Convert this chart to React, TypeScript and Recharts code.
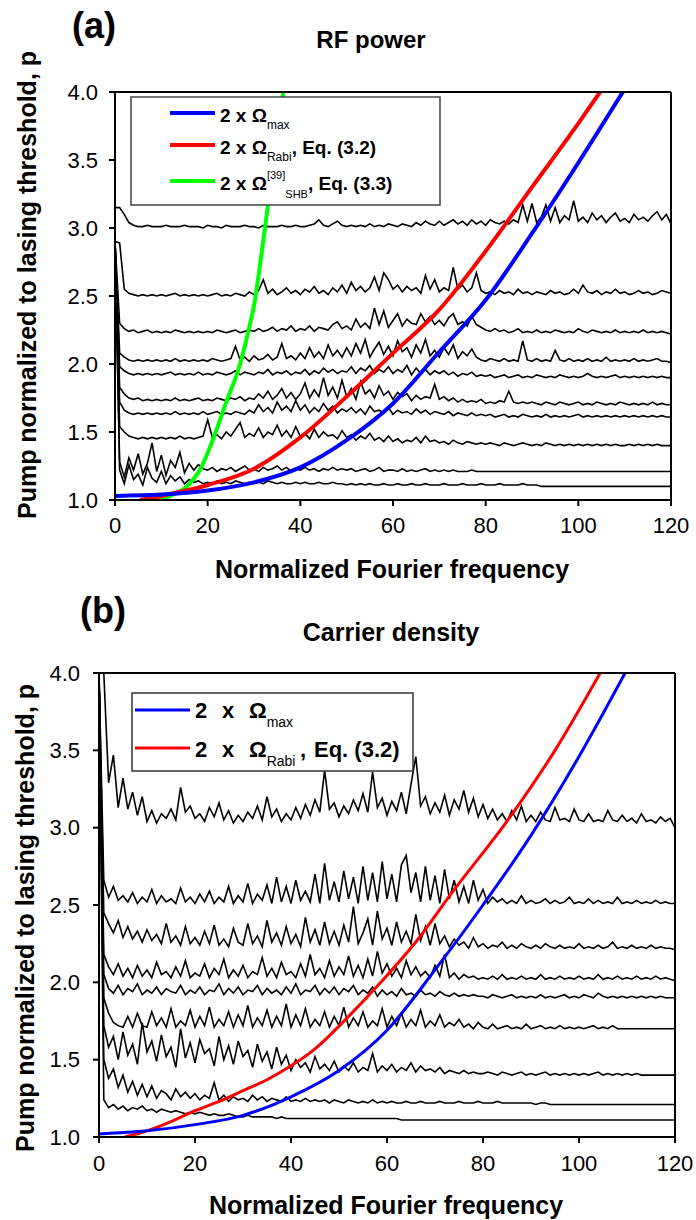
import { LineChart, Line, XAxis, YAxis } from 'recharts'

const FONT = "'Liberation Sans', Arial, Helvetica, sans-serif"

// axis ticks
const freqTicks = [0, 20, 40, 60, 80, 100, 120]
const freqMinorTicks = [10, 30, 50, 70, 90, 110]
const freqTopTicks = [10, 20, 30, 40, 50, 60, 70, 80, 90, 100, 110]
const pumpTicks = [1.0, 1.5, 2.0, 2.5, 3.0, 3.5, 4.0]
const pumpMinorTicks = [1.25, 1.75, 2.25, 2.75, 3.25, 3.75]
const pumpRightTicks = [1.25, 1.5, 1.75, 2.0, 2.25, 2.5, 2.75, 3.0, 3.25, 3.5, 3.75]

// spectra: one value per unit of normalized frequency (0..120), in hundredths of p
// (a) RF power
const rfP300 = [
  315, 315, 310, 304, 302, 301, 301, 302, 301, 301,
  301, 302, 301, 301, 301, 302, 301, 301, 301, 300,
  302, 301, 301, 300, 302, 301, 301, 301, 302, 301,
  301, 300, 302, 301, 301, 301, 302, 301, 301, 302,
  301, 301, 302, 303, 306, 302, 301, 303, 305, 302,
  301, 302, 301, 302, 301, 303, 301, 302, 301, 303,
  302, 301, 303, 302, 301, 304, 302, 305, 303, 302,
  305, 302, 304, 306, 303, 305, 302, 306, 303, 305,
  302, 306, 304, 303, 305, 303, 306, 304, 317, 305,
  318, 304, 308, 317, 305, 315, 304, 309, 306, 320,
  305, 308, 304, 311, 306, 309, 304, 308, 311, 305,
  307, 304, 310, 306, 308, 305, 309, 312, 306, 310,
  303,
]
const rfP250 = [
  290, 289, 255, 252, 251, 250, 251, 250, 251, 250,
  251, 250, 251, 252, 250, 251, 250, 251, 250, 251,
  250, 251, 252, 250, 251, 250, 252, 251, 250, 253,
  251, 254, 262, 252, 255, 251, 253, 256, 252, 254,
  251, 255, 253, 257, 252, 254, 251, 256, 253, 258,
  252, 260, 254, 257, 253, 256, 264, 254, 267, 262,
  255, 258, 253, 257, 254, 256, 252, 265, 255, 262,
  253, 256, 254, 271, 255, 258, 253, 256, 267, 254,
  252, 253, 251, 254, 252, 253, 251, 255, 252, 253,
  251, 253, 252, 251, 254, 252, 253, 251, 252, 255,
  252, 258, 253, 252, 254, 251, 253, 252, 255, 252,
  253, 251, 252, 254, 252, 253, 251, 252, 254, 253,
  252,
]
const rfP220 = [
  290, 230, 226, 224, 225, 223, 224, 225, 223, 224,
  223, 224, 223, 225, 224, 223, 224, 223, 224, 223,
  224, 223, 225, 224, 223, 224, 225, 223, 224, 225,
  224, 226, 224, 225, 227, 224, 226, 225, 228, 224,
  226, 225, 228, 224, 227, 226, 225, 229, 231, 226,
  228, 225, 233, 227, 230, 226, 241, 229, 239, 227,
  232, 237, 228, 233, 230, 229, 237, 231, 235, 229,
  232, 228, 234, 237, 229, 231, 228, 235, 229, 227,
  225, 224, 226, 224, 225, 223, 224, 226, 223, 224,
  223, 225, 223, 224, 223, 225, 224, 223, 224, 223,
  226, 224, 223, 225, 224, 223, 224, 223, 225, 223,
  224, 223, 224, 223, 225, 223, 224, 223, 224, 223,
  222,
]
const rfP200 = [
  290, 208, 205, 203, 202, 203, 202, 203, 202, 203,
  202, 203, 202, 204, 202, 203, 202, 203, 202, 203,
  202, 204, 203, 202, 203, 204, 213, 203, 205, 202,
  206, 203, 204, 207, 203, 205, 215, 204, 206, 203,
  208, 204, 212, 205, 209, 204, 214, 206, 210, 205,
  212, 206, 215, 208, 218, 205, 211, 216, 207, 213,
  206, 217, 209, 212, 205, 214, 208, 218, 206, 210,
  205, 212, 207, 214, 204, 209, 206, 211, 205, 203,
  202, 204, 203, 202, 204, 202, 203, 202, 217, 203,
  202, 204, 202, 203, 202, 210, 203, 202, 204, 202,
  203, 202, 204, 202, 203, 202, 205, 202, 203, 202,
  203, 202, 204, 202, 203, 202, 203, 204, 202, 202,
  201,
]
const rfP190 = [
  290, 198, 195, 193, 192, 193, 192, 193, 192, 193,
  192, 193, 194, 192, 193, 192, 193, 192, 194, 192,
  193, 192, 194, 193, 192, 193, 195, 192, 194, 193,
  192, 194, 193, 196, 192, 194, 193, 195, 192, 194,
  193, 196, 192, 195, 193, 197, 194, 196, 193, 195,
  194, 198, 193, 197, 195, 199, 193, 196, 194, 198,
  193, 196, 194, 199, 192, 197, 193, 196, 192, 195,
  193, 195, 192, 194, 191, 193, 192, 194, 191, 192,
  191, 192, 190, 191, 192, 190, 191, 192, 190, 191,
  190, 192, 191, 190, 191, 190, 192, 191, 190, 191,
  190, 191, 193, 191, 190, 191, 190, 191, 192, 190,
  191, 190, 191, 190, 191, 190, 191, 190, 191, 190,
  190,
]
const rfP170 = [
  290, 183, 178, 175, 174, 175, 173, 174, 173, 174,
  173, 174, 173, 175, 173, 174, 173, 174, 175, 173,
  174, 173, 175, 174, 173, 175, 174, 176, 173, 175,
  174, 178, 175, 180, 174, 177, 182, 175, 179, 174,
  178, 186, 175, 181, 176, 190, 177, 183, 175, 188,
  176, 182, 174, 187, 178, 181, 175, 184, 177, 180,
  174, 179, 176, 178, 173, 177, 174, 176, 175, 185,
  174, 176, 173, 175, 172, 174, 172, 173, 172, 174,
  171, 172, 171, 173, 172, 180, 172, 171, 172, 171,
  172, 171, 170, 172, 171, 170, 172, 171, 170, 171,
  172, 170, 171, 170, 172, 171, 170, 171, 170, 172,
  171, 170, 171, 170, 171, 170, 172, 170, 171, 170,
  170,
]
const rfP160 = [
  290, 172, 166, 164, 163, 164, 163, 164, 163, 164,
  163, 164, 163, 165, 163, 164, 163, 164, 163, 165,
  163, 164, 165, 163, 164, 163, 165, 164, 163, 166,
  164, 170, 165, 168, 164, 172, 166, 169, 165, 173,
  166, 170, 164, 168, 165, 171, 166, 169, 164, 167,
  165, 168, 164, 167, 163, 169, 165, 166, 164, 168,
  163, 166, 164, 165, 163, 167, 164, 166, 163, 165,
  164, 163, 165, 162, 164, 163, 162, 164, 162, 163,
  162, 163, 161, 162, 163, 161, 162, 161, 163, 162,
  161, 162, 161, 163, 161, 162, 161, 162, 161, 162,
  163, 161, 162, 161, 162, 161, 162, 161, 162, 161,
  162, 161, 162, 161, 162, 161, 162, 161, 162, 161,
  161,
]
const rfP140 = [
  290, 154, 150, 147, 146, 145, 146, 145, 146, 145,
  146, 145, 146, 145, 147, 145, 146, 145, 146, 147,
  159, 146, 148, 145, 150, 147, 152, 157, 146, 149,
  147, 153, 146, 150, 148, 155, 147, 151, 146, 154,
  147, 149, 145, 152, 146, 150, 147, 148, 145, 151,
  146, 148, 144, 147, 145, 149, 144, 146, 143, 147,
  143, 145, 142, 144, 143, 146, 142, 147, 143, 144,
  142, 143, 141, 144, 142, 141, 143, 142, 141, 142,
  141, 142, 141, 140, 142, 141, 140, 141, 142, 141,
  140, 141, 140, 142, 141, 140, 141, 140, 141, 140,
  141, 140, 141, 140, 141, 140, 141, 140, 141, 140,
  140, 141, 140, 141, 140, 141, 140, 141, 140, 140,
  140,
]
const rfP120 = [
  290, 128, 117, 131, 122, 134, 119, 127, 142, 121,
  133, 118, 129, 124, 135, 120, 127, 122, 126, 123,
  122, 124, 121, 123, 122, 124, 121, 123, 125, 122,
  123, 121, 124, 122, 123, 125, 122, 124, 121, 123,
  122, 124, 122, 123, 121, 123, 122, 124, 122, 123,
  122, 123, 121, 122, 123, 121, 122, 124, 121, 122,
  122, 121, 123, 121, 122, 121, 122, 123, 121, 122,
  121, 122, 121, 122, 121, 121, 121, 122, 121, 121,
  121, 121, 121, 121, 121, 121, 121, 121, 121, 121,
  121, 121, 121, 121, 121, 121, 121, 121, 121, 121,
  121, 121, 121, 121, 121, 121, 121, 121, 121, 121,
  121, 121, 121, 121, 121, 121, 121, 121, 121, 121,
  121,
]
const rfP110 = [
  290, 122, 112, 126, 115, 119, 111, 124, 116, 113,
  121, 112, 118, 114, 117, 112, 115, 113, 114, 112,
  113, 112, 114, 112, 113, 112, 114, 113, 112, 113,
  112, 113, 112, 114, 113, 112, 113, 112, 112, 113,
  112, 113, 112, 112, 113, 112, 112, 113, 112, 112,
  111, 112, 111, 112, 111, 112, 111, 111, 112, 111,
  111, 112, 111, 111, 112, 111, 111, 112, 111, 111,
  111, 112, 111, 111, 111, 112, 111, 111, 111, 112,
  111, 111, 111, 112, 111, 111, 111, 111, 112, 111,
  111, 111, 110, 110, 110, 110, 110, 110, 110, 110,
  110, 110, 110, 110, 110, 110, 110, 110, 110, 110,
  110, 110, 110, 110, 110, 110, 110, 110, 110, 110,
  110,
]

// (b) Carrier density
const cdP305 = [
  400, 400, 329, 347, 313, 332, 312, 323, 308, 320,
  304, 311, 303, 309, 306, 312, 305, 326, 310, 314,
  306, 309, 304, 313, 307, 316, 305, 311, 303, 308,
  304, 310, 306, 314, 305, 320, 307, 312, 304, 309,
  305, 313, 306, 315, 308, 318, 310, 337, 312, 316,
  307, 314, 309, 318, 311, 322, 310, 336, 313, 319,
  308, 317, 311, 323, 309, 328, 346, 314, 320, 309,
  316, 310, 321, 308, 318, 312, 324, 310, 319, 307,
  315, 306, 312, 305, 309, 304, 311, 305, 314, 304,
  308, 304, 310, 305, 304, 313, 305, 306, 304, 312,
  305, 304, 309, 304, 305, 304, 311, 305, 304, 308,
  304, 306, 303, 309, 304, 305, 303, 307, 304, 306,
  300,
]
const cdP250 = [
  400, 266, 255, 262, 253, 256, 252, 258, 251, 255,
  252, 260, 251, 256, 252, 254, 251, 261, 252, 255,
  251, 257, 252, 259, 251, 255, 252, 262, 251, 256,
  252, 264, 251, 257, 253, 263, 251, 268, 252, 262,
  251, 266, 253, 259, 252, 270, 251, 277, 253, 265,
  252, 272, 254, 268, 251, 275, 253, 271, 252, 278,
  254, 270, 252, 276, 282, 258, 271, 252, 275, 253,
  269, 251, 273, 254, 266, 252, 262, 251, 266, 253,
  260, 251, 255, 252, 254, 251, 253, 251, 256, 251,
  253, 251, 252, 254, 251, 253, 251, 252, 255, 251,
  252, 251, 254, 251, 253, 251, 252, 251, 255, 251,
  252, 251, 253, 251, 252, 251, 253, 251, 252, 251,
  251,
]
const cdP220 = [
  400, 245, 238, 232, 240, 229, 236, 228, 233, 226,
  234, 227, 231, 225, 238, 226, 230, 224, 236, 225,
  229, 224, 233, 225, 237, 224, 228, 223, 235, 226,
  224, 238, 225, 230, 223, 240, 226, 232, 224, 236,
  225, 231, 223, 242, 226, 234, 224, 239, 225, 233,
  224, 237, 226, 249, 225, 232, 241, 224, 246, 228,
  235, 224, 239, 226, 233, 225, 244, 227, 236, 224,
  238, 225, 230, 223, 228, 224, 226, 222, 229, 223,
  225, 222, 224, 223, 226, 222, 224, 222, 225, 223,
  222, 224, 222, 225, 223, 222, 224, 222, 223, 222,
  225, 222, 223, 222, 224, 222, 223, 226, 222, 223,
  222, 224, 222, 223, 222, 224, 222, 223, 222, 222,
  221,
]
const cdP200 = [
  400, 218, 210, 205, 212, 204, 209, 203, 211, 204,
  208, 203, 213, 205, 207, 203, 210, 204, 214, 203,
  206, 204, 212, 203, 209, 205, 215, 203, 208, 204,
  211, 203, 207, 205, 216, 204, 209, 203, 213, 205,
  207, 203, 212, 204, 218, 205, 209, 203, 214, 204,
  210, 205, 217, 204, 211, 203, 215, 204, 220, 206,
  212, 204, 209, 203, 214, 205, 210, 204, 207, 203,
  211, 204, 218, 203, 206, 202, 205, 203, 204, 202,
  203, 202, 204, 202, 205, 202, 203, 202, 204, 202,
  203, 202, 205, 202, 203, 202, 204, 202, 203, 202,
  204, 202, 203, 202, 205, 202, 203, 202, 204, 202,
  203, 202, 204, 202, 203, 202, 204, 202, 203, 202,
  201,
]
const cdP190 = [
  400, 205, 196, 193, 198, 192, 196, 194, 199, 192,
  195, 193, 197, 192, 196, 194, 193, 198, 192, 195,
  193, 197, 192, 195, 194, 199, 192, 196, 193, 197,
  192, 195, 194, 198, 192, 196, 193, 195, 192, 197,
  193, 199, 192, 195, 194, 198, 192, 196, 193, 197,
  192, 196, 194, 198, 192, 195, 193, 197, 191, 195,
  192, 194, 191, 196, 192, 193, 191, 195, 192, 193,
  191, 194, 192, 191, 193, 191, 192, 191, 192, 191,
  191, 190, 192, 191, 190, 191, 192, 190, 191, 190,
  191, 190, 192, 190, 191, 190, 191, 192, 190, 191,
  190, 192, 191, 190, 193, 191, 190, 191, 190, 191,
  190, 191, 190, 191, 190, 191, 190, 191, 190, 190,
  190,
]
const cdP170 = [
  400, 190, 180, 174, 172, 171, 178, 171, 180, 172,
  171, 181, 172, 177, 171, 183, 171, 175, 172, 182,
  171, 178, 172, 184, 171, 176, 172, 181, 171, 179,
  172, 185, 171, 177, 172, 182, 171, 178, 172, 186,
  171, 179, 172, 183, 171, 176, 172, 181, 171, 178,
  172, 184, 171, 177, 172, 181, 171, 175, 172, 183,
  171, 178, 172, 180, 171, 176, 172, 182, 171, 175,
  172, 179, 171, 174, 172, 176, 171, 173, 170, 174,
  171, 170, 173, 170, 171, 172, 170, 171, 170, 173,
  170, 171, 172, 170, 171, 170, 172, 170, 171, 170,
  171, 170, 171, 172, 170, 171, 170, 172, 170, 170,
  170, 170, 170, 170, 170, 170, 170, 170, 170, 170,
  170,
]
const cdP140 = [
  400, 172, 158, 165, 150, 168, 153, 160, 147, 174,
  155, 162, 149, 166, 152, 158, 145, 170, 151, 161,
  148, 163, 154, 157, 146, 165, 150, 159, 147, 162,
  152, 156, 145, 160, 149, 155, 144, 158, 147, 153,
  143, 150, 145, 148, 142, 152, 144, 147, 143, 149,
  142, 146, 143, 148, 142, 145, 143, 154, 142, 146,
  143, 147, 142, 145, 143, 148, 142, 146, 143, 144,
  142, 145, 141, 143, 142, 141, 143, 141, 142, 141,
  141, 142, 141, 140, 142, 141, 140, 141, 142, 140,
  141, 140, 141, 142, 140, 141, 140, 141, 140, 141,
  140, 141, 140, 141, 142, 140, 141, 140, 141, 140,
  141, 140, 141, 140, 140, 140, 140, 140, 140, 140,
  140,
]
const cdP120 = [
  400, 150, 138, 144, 132, 140, 129, 136, 127, 134,
  126, 133, 125, 130, 128, 124, 131, 126, 129, 125,
  128, 124, 127, 125, 135, 124, 127, 123, 126, 124,
  125, 123, 127, 124, 126, 123, 125, 124, 123, 126,
  123, 124, 123, 125, 123, 124, 123, 124, 122, 124,
  123, 122, 124, 123, 122, 123, 122, 124, 122, 123,
  122, 123, 122, 122, 123, 122, 122, 123, 122, 122,
  122, 123, 122, 122, 122, 123, 122, 122, 122, 123,
  122, 122, 122, 123, 122, 122, 122, 122, 122, 122,
  122, 121, 122, 122, 121, 121, 121, 121, 121, 121,
  121, 121, 121, 121, 121, 121, 121, 121, 121, 121,
  121, 121, 121, 121, 121, 121, 121, 121, 121, 121,
  121,
]
const cdP110 = [
  400, 124, 119, 121, 118, 120, 117, 119, 118, 120,
  117, 118, 116, 118, 117, 116, 117, 116, 115, 116,
  115, 116, 115, 114, 115, 114, 114, 115, 114, 113,
  113, 114, 113, 113, 113, 113, 113, 112, 113, 112,
  112, 112, 112, 112, 112, 112, 112, 112, 112, 112,
  112, 112, 112, 112, 112, 112, 112, 112, 112, 112,
  112, 112, 112, 111, 111, 111, 111, 111, 111, 111,
  111, 111, 111, 111, 111, 111, 111, 111, 111, 111,
  111, 111, 111, 111, 111, 111, 111, 111, 111, 111,
  111, 111, 111, 111, 111, 111, 111, 111, 111, 111,
  111, 111, 111, 111, 111, 111, 111, 111, 111, 111,
  111, 111, 111, 111, 111, 111, 111, 111, 111, 111,
  111,
]

// theory curves [frequency, p]
const rfOmegaMax = [[0, 1.03], [10, 1.04], [20, 1.07], [30, 1.13], [40, 1.24], [50, 1.44], [60, 1.71], [70, 2.09], [80, 2.47], [90, 2.96], [100, 3.48], [109.6, 4.0]]
const rfOmegaRabi = [[5.4, 1.0], [10, 1.03], [20, 1.11], [30, 1.23], [40, 1.46], [50, 1.76], [60, 2.08], [70, 2.4], [80, 2.83], [90, 3.3], [100, 3.77], [104.7, 4.0]]
const rfOmegaShb = [[8, 1.0], [10, 1.01], [12.5, 1.04], [15.5, 1.1], [18.3, 1.22], [21.2, 1.45], [24, 1.72], [27, 2.0], [28.5, 2.2], [30.2, 2.47], [31.5, 2.78], [32.8, 3.11], [34.5, 3.55], [36.3, 4.0]]
const cdOmegaMax = [[0, 1.02], [10, 1.04], [20, 1.08], [30, 1.14], [40, 1.26], [50, 1.43], [60, 1.69], [70, 2.08], [80, 2.5], [90, 2.95], [100, 3.46], [109.6, 4.0]]
const cdOmegaRabi = [[5.4, 1.0], [10, 1.04], [15, 1.1], [20, 1.17], [25, 1.23], [30, 1.3], [35, 1.37], [40, 1.46], [45, 1.57], [52, 1.78], [58.7, 2.0], [66.5, 2.28], [73.3, 2.57], [85.2, 3.05], [95, 3.5], [104.4, 4.0]]

const rfTraces = [rfP300, rfP250, rfP220, rfP200, rfP190, rfP170, rfP160, rfP140, rfP120, rfP110]
const cdTraces = [cdP305, cdP250, cdP220, cdP200, cdP190, cdP170, cdP140, cdP120, cdP110]

const toPoints = (vals: number[]) => vals.map((v, i) => ({ x: i, y: v / 100 }))
const pairsToPoints = (pairs: number[][]) => pairs.map(([x, y]) => ({ x, y }))

type Geom = {
  top: number
  height: number
  left: number
  right: number
  plotTop: number
  plotBottom: number
  yTickMargin: number
  xTickMargin: number
}

type Curve = { pairs: number[][]; color: string }

function Panel({ traces, curves, g, traceWidth, curveWidth }: { traces: number[][]; curves: Curve[]; g: Geom; traceWidth: number; curveWidth: number }) {
  // two stacked 1px axes on the left and at the bottom
  const margin = { top: g.plotTop, left: g.left - 2, right: 696 - g.right, bottom: g.height - g.plotBottom - 2 }
  const ax = { stroke: '#000', strokeWidth: 2 }
  const tickText = { fill: '#000', fontSize: 22, fontFamily: FONT }
  return (
    <div style={{ position: 'absolute', left: 0, top: g.top }}>
      <LineChart width={696} height={g.height} margin={margin}>
        <XAxis xAxisId="x" type="number" dataKey="x" domain={[0, 120]} ticks={freqTicks} interval={0} allowDataOverflow
          height={1} tickSize={6} tickMargin={g.xTickMargin} axisLine={ax} tickLine={ax} tick={tickText} />
        <XAxis xAxisId="xMinor" type="number" dataKey="x" domain={[0, 120]} ticks={freqMinorTicks} interval={0} allowDataOverflow
          height={1} tickSize={4} axisLine={false} tickLine={ax} tick={false} />
        <XAxis xAxisId="xTop" orientation="top" mirror type="number" dataKey="x" domain={[0, 120]} ticks={freqTopTicks} interval={0} allowDataOverflow
          height={1} tickSize={5} axisLine={ax} tickLine={ax} tick={false} />
        <YAxis yAxisId="y" type="number" domain={[1, 4]} ticks={pumpTicks} interval={0} allowDataOverflow
          width={1} tickSize={6} tickMargin={g.yTickMargin} axisLine={ax} tickLine={ax} tick={tickText}
          tickFormatter={(v: number) => v.toFixed(1)} />
        <YAxis yAxisId="yMinor" type="number" domain={[1, 4]} ticks={pumpMinorTicks} interval={0} allowDataOverflow
          width={1} tickSize={4} axisLine={false} tickLine={ax} tick={false} />
        <YAxis yAxisId="yRight" orientation="right" mirror type="number" domain={[1, 4]} ticks={pumpRightTicks} interval={0} allowDataOverflow
          width={1} tickSize={5} axisLine={ax} tickLine={ax} tick={false} />
        {traces.map((t, i) => (
          <Line key={'t' + i} xAxisId="x" yAxisId="y" data={toPoints(t)} dataKey="y" type="linear"
            stroke="#000" strokeWidth={traceWidth} dot={false} isAnimationActive={false} />
        ))}
        {curves.map((c, i) => (
          <Line key={'c' + i} xAxisId="x" yAxisId="y" data={pairsToPoints(c.pairs)} dataKey="y" type="monotone"
            stroke={c.color} strokeWidth={curveWidth} dot={false} isAnimationActive={false} />
        ))}
      </LineChart>
    </div>
  )
}

const geomA: Geom = { top: 0, height: 600, left: 115, right: 671, plotTop: 92, plotBottom: 500, yTickMargin: 11, xTickMargin: 11 }
const geomB: Geom = { top: 600, height: 620, left: 99, right: 675, plotTop: 73, plotBottom: 537, yTickMargin: 13, xTickMargin: 12 }

export default function App() {
  return (
    <div style={{ position: 'absolute', left: 0, top: 0, width: 696, height: 1220, background: '#fff', overflow: 'hidden' }}>
      <Panel traces={rfTraces} g={geomA} traceWidth={1.6} curveWidth={4}
        curves={[{ pairs: rfOmegaShb, color: '#00ff00' }, { pairs: rfOmegaRabi, color: '#ff0000' }, { pairs: rfOmegaMax, color: '#0000ff' }]} />
      <Panel traces={cdTraces} g={geomB} traceWidth={1.6} curveWidth={3}
        curves={[{ pairs: cdOmegaRabi, color: '#ff0000' }, { pairs: cdOmegaMax, color: '#0000ff' }]} />
      <svg width={696} height={1220} style={{ position: 'absolute', left: 0, top: 0 }} fontFamily={FONT}>
        {/* panel (a) */}
        <text x={72} y={38} fontSize={36} fontWeight="bold">(a)</text>
        <text x={371} y={48} fontSize={24} fontWeight="bold" textAnchor="middle">RF power</text>
        <text transform="translate(27,285) rotate(-90)" fontSize={25} fontWeight="bold" textAnchor="middle" dy="0.35em">
          Pump normalized to lasing threshold, p
        </text>
        <text x={392} y={578} fontSize={25} fontWeight="bold" textAnchor="middle">Normalized Fourier frequency</text>
        <rect x={131} y={97} width={309} height={108} fill="#fff" stroke="#444" strokeWidth={1.5} />
        <line x1={170} x2={215} y1={113} y2={113} stroke="#0000ff" strokeWidth={4} />
        <line x1={170} x2={215} y1={145} y2={145} stroke="#ff0000" strokeWidth={4} />
        <line x1={170} x2={215} y1={181} y2={181} stroke="#00ff00" strokeWidth={4} />
        <text x={220} y={122} fontSize={19} fontWeight="bold">
          2 x Ω<tspan fontSize={12} fontWeight="normal" dy={7}>max</tspan>
        </text>
        <text x={220} y={154} fontSize={19} fontWeight="bold">
          2 x Ω<tspan fontSize={12} fontWeight="normal" dy={7}>Rabi</tspan><tspan dy={-7}>, Eq. (3.2)</tspan>
        </text>
        <text x={220} y={190} fontSize={19} fontWeight="bold">
          2 x Ω<tspan fontSize={11} fontWeight="normal" dy={-11}>[39]</tspan>
          <tspan fontSize={11} fontWeight="normal" dy={19}>SHB</tspan><tspan dy={-8}>, Eq. (3.3)</tspan>
        </text>

        {/* panel (b) */}
        <text x={80} y={623} fontSize={36} fontWeight="bold">(b)</text>
        <text x={391} y={641} fontSize={25} fontWeight="bold" textAnchor="middle">Carrier density</text>
        <text transform="translate(25,918) rotate(-90)" fontSize={25} fontWeight="bold" textAnchor="middle" dy="0.35em">
          Pump normalized to lasing threshold, p
        </text>
        <text x={386} y={1214} fontSize={25} fontWeight="bold" textAnchor="middle">Normalized Fourier frequency</text>
        <rect x={132} y={693} width={281} height={78} fill="#fff" stroke="#333" strokeWidth={1.5} />
        <line x1={135} x2={190} y1={710} y2={710} stroke="#0000ff" strokeWidth={3} />
        <line x1={135} x2={190} y1={748} y2={748} stroke="#ff0000" strokeWidth={3} />
        <text y={718} fontSize={22} fontWeight="bold">
          <tspan x={195}>2</tspan><tspan x={222}>x</tspan><tspan x={249}>Ω</tspan>
          <tspan fontSize={14} fontWeight="normal" dy={9}>max</tspan>
        </text>
        <text y={757} fontSize={22} fontWeight="bold">
          <tspan x={195}>2</tspan><tspan x={222}>x</tspan><tspan x={249}>Ω</tspan>
          <tspan fontSize={14} fontWeight="normal" dy={9}>Rabi</tspan>
          <tspan x={300} dy={-9}>,</tspan><tspan x={314}>Eq. (3.2)</tspan>
        </text>
      </svg>
    </div>
  )
}
